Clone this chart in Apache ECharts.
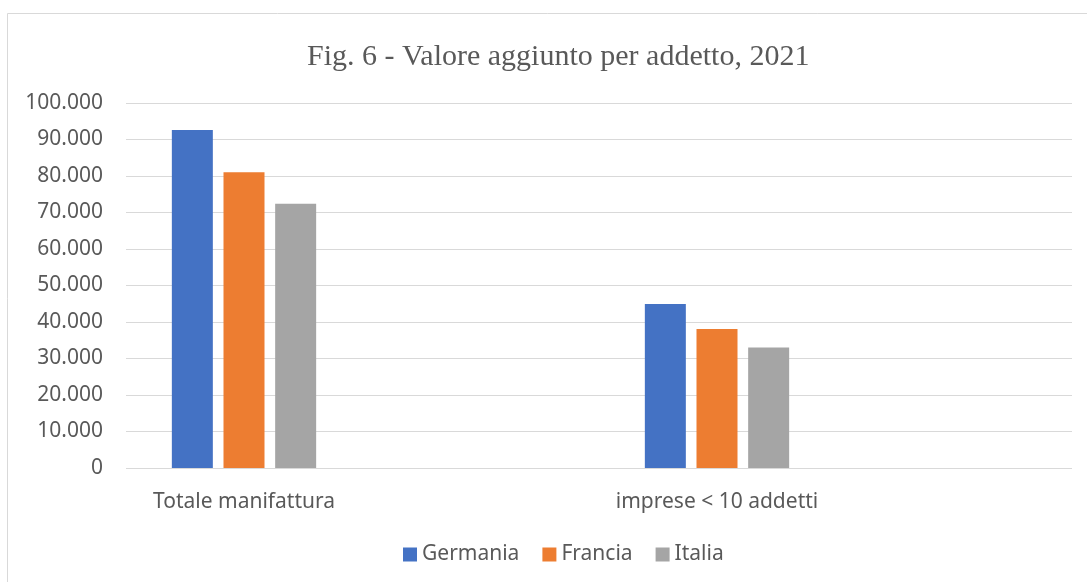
<!DOCTYPE html>
<html>
<head>
<meta charset="utf-8">
<script src="https://cdn.jsdelivr.net/npm/echarts@6/dist/echarts.min.js"></script>
<style>
  html, body { margin: 0; padding: 0; background: #fff; }
  #chart { width: 1087px; height: 582px; }
</style>
</head>
<body>
<div id="chart"></div>
<script>
var categories = ["Totale manifattura", "imprese < 10 addetti"];
var seriesNames = ["Germania", "Francia", "Italia"];
var germania = [92600, 44900];
var francia = [81000, 38100];
var italia = [72400, 33000];
var yTicks = [0, 10000, 20000, 30000, 40000, 50000, 60000, 70000, 80000, 90000, 100000];
var colors = ["#4472C4", "#ED7D31", "#A5A5A5"];

// separatore delle migliaia col punto
function fmt(v) {
  return String(v).replace(/\B(?=(\d{3})+(?!\d))/g, ".");
}

var myChart = echarts.init(document.getElementById("chart"));

var barBase = {
  type: "bar",
  xAxisIndex: 1,
  yAxisIndex: 1,
  barWidth: 41,
  barGap: "26%",
  silent: true
};
var allData = [germania, francia, italia];
var series = seriesNames.map(function (name, i) {
  return Object.assign({}, barBase, {
    name: name,
    itemStyle: { color: colors[i] },
    data: allData[i]
  });
});

var option = {
  backgroundColor: "#fff",
  animation: false,
  title: {
    text: "Fig. 6 - Valore aggiunto per addetto, 2021",
    left: 302,
    top: 37,
    textStyle: {
      fontFamily: "Liberation Serif",
      fontWeight: "normal",
      fontSize: 30,
      color: "#595959"
    }
  },
  legend: {
    bottom: 12,
    left: 398,
    itemWidth: 14,
    itemHeight: 14,
    itemGap: 23,
    icon: "rect",
    textStyle: { fontFamily: "Noto Sans", fontSize: 21, color: "#595959" },
    data: seriesNames
  },
  graphic: [
    {
      type: "rect",
      shape: { x: 7.5, y: 13.5, width: 1200, height: 700 },
      style: { fill: "none", stroke: "#D9D9D9", lineWidth: 1 },
      silent: true
    }
  ],
  grid: [
    { left: 126, right: 15, top: 103, bottom: 114 },
    { left: 7.5, width: 946, top: 103, bottom: 114 }
  ],
  xAxis: [
    {
      type: "category",
      gridIndex: 0,
      data: categories,
      show: false
    },
    {
      type: "category",
      gridIndex: 1,
      data: categories,
      axisLine: { show: false },
      axisTick: { show: false },
      axisLabel: {
        margin: 24,
        fontFamily: "Noto Sans",
        fontSize: 21,
        color: "#595959"
      }
    }
  ],
  yAxis: [
    {
      type: "value",
      gridIndex: 0,
      min: yTicks[0],
      max: yTicks[yTicks.length - 1],
      interval: yTicks[1] - yTicks[0],
      axisLine: { show: false },
      axisTick: { show: false },
      axisLabel: {
        margin: 23,
        fontFamily: "Noto Sans",
        fontSize: 21,
        color: "#595959",
        formatter: fmt
      },
      splitLine: { lineStyle: { color: "#D9D9D9", width: 1 } }
    },
    {
      type: "value",
      gridIndex: 1,
      min: yTicks[0],
      max: yTicks[yTicks.length - 1],
      interval: yTicks[1] - yTicks[0],
      show: false,
      splitLine: { show: false }
    }
  ],
  series: series
};

myChart.setOption(option);
</script>
</body>
</html>
